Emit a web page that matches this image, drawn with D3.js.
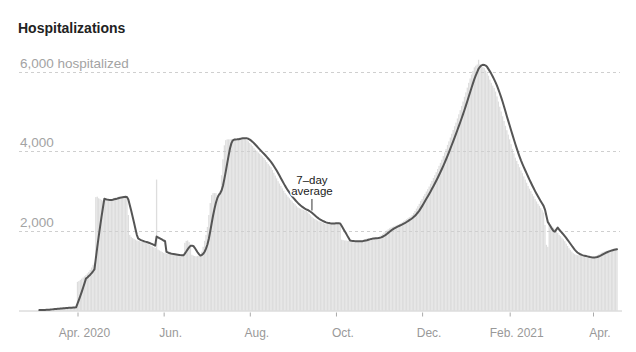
<!DOCTYPE html>
<html><head><meta charset="utf-8">
<script src="https://cdn.jsdelivr.net/npm/d3@7"></script>
<style>
body{margin:0;background:#fff;}
svg text{font-family:"Liberation Sans",Arial,sans-serif;}
</style></head><body>
<svg id="chart" width="636" height="352"></svg>
<script>
// ---- data (daily hospitalized, starting 2020-03-05) ----
const startDate = "2020-03-05";
const mar2020 = [10,12,15,18,20,24,28,32,36,40,43,46,50,53,56,60,63,66,68,70,72,74,76,78,80,85,90];
const apr2020 = [720,740,770,800,830,860,890,930,970,1020,1080,1150,1200,2850,2860,2820,2800,2780,2760,2770,2780,2790,2780,2770,2790,2810,2830,2840,2850,2860];
const may2020 = [2850,2840,2860,2870,2860,2840,2400,1900,1850,1820,1800,1780,1760,1750,1740,1730,1720,1710,1700,1690,1670,1650,1630,1610,1590,1570,3290,1530,1510,1490,1470];
const jun2020 = [1450,1440,1430,1420,1415,1410,1410,1405,1400,1395,1385,1375,1370,1370,1420,1700,1750,1760,1720,1650,1400,1380,1370,1360,1370,1380,1400,1480,1600,1750];
const jul2020 = [1900,2100,2400,2700,2900,2950,2950,2950,2900,2950,3000,3400,3800,4150,4280,4300,4300,4300,4310,4290,4290,4300,4310,4330,4350,4360,4340,4320,4300,4280,4250];
const aug2020 = [4210,4170,4130,4080,4040,4010,3970,3940,3900,3870,3830,3780,3730,3680,3640,3600,3530,3460,3390,3320,3250,3190,3130,3070,3010,2950,2910,2860,2820,2780,2740];
const sep2020 = [2700,2670,2630,2590,2570,2560,2540,2530,2510,2500,2470,2430,2390,2350,2320,2300,2280,2260,2240,2230,2220,2200,2180,2170,2180,2190,2190,2190,2200,2200];
const oct2020 = [2190,2190,2180,2170,1780,1770,1760,1760,1750,1750,1740,1740,1740,1730,1750,1745,1740,1735,1740,1760,1780,1795,1810,1815,1815,1815,1815,1815,1820,1825,1835];
const nov2020 = [1860,1890,1920,1955,1980,2010,2040,2065,2085,2100,2115,2130,2145,2160,2175,2200,2220,2245,2270,2295,2320,2345,2360,2400,2450,2500,2560,2620,2680,2750];
const dec2020 = [2800,2870,2930,2990,3050,3115,3185,3255,3330,3400,3475,3555,3635,3710,3790,3880,3970,4060,4160,4250,4345,4440,4535,4630,4720,4825,4930,5035,5140,5250,5370];
const jan2021 = [5480,5600,5720,5830,5930,6020,6110,6150,6180,6300,6190,6160,6120,6090,6030,5960,5900,5800,5720,5650,5590,5500,5380,5250,5120,5000,4880,4760,4640,4530,4420];
const feb2021 = [4300,4180,4060,3950,3840,3760,3680,3600,3520,3450,3370,3290,3210,3130,3060,3000,2930,2870,2800,2740,2680,2630,2570,2520,2460,2150,1650,1600];
const mar2021 = [2220,2160,2110,2080,2050,2000,1950,1900,1870,1830,1790,1740,1680,1620,1565,1520,1480,1440,1415,1400,1390,1385,1380,1370,1360,1350,1340,1330,1325,1325,1330];
const apr2021 = [1330,1345,1365,1390,1410,1430,1455,1470,1485,1495,1505,1515,1525,1535,1545,1550,1555,1560];

const yTicks = [2000, 4000, 6000];
const yTickLabels = ["2,000", "4,000", "6,000 hospitalized"];
const xTickDates = ["2020-04-01","2020-06-01","2020-08-01","2020-10-01","2020-12-01","2021-02-01","2021-04-01"];
const xTickLabels = ["Apr. 2020","Jun.","Aug.","Oct.","Dec.","Feb. 2021","Apr."];
const titleText = "Hospitalizations";
const annotationLines = ["7\u2013day", "average"];
const annotationDate = "2020-09-14";

// ---- build ----
const parse = d3.timeParse("%Y-%m-%d");
const values = [].concat(mar2020, apr2020, may2020, jun2020, jul2020, aug2020, sep2020,
  oct2020, nov2020, dec2020, jan2021, feb2021, mar2021, apr2021);
const start = parse(startDate);
const daily = values.map((v, i) => ({date: d3.timeDay.offset(start, i), value: v}));
const avg = daily.map((d, i) => {
  const win = daily.slice(Math.max(0, i - 6), i + 1);
  return {date: d.date, value: d3.mean(win, w => w.value)};
});

const svg = d3.select("#chart");
const x = d3.scaleTime()
  .domain([parse("2020-04-01"), parse("2021-04-01")])
  .range([77.5, 593]);
const y = d3.scaleLinear().domain([0, 6000]).range([310.5, 71.7]);

svg.append("text").attr("x", 18).attr("y", 33)
  .attr("font-size", 14).attr("font-weight", "bold").attr("fill", "#222")
  .text(titleText);

// bars
const dayW = x(d3.timeDay.offset(parse("2020-04-01"), 1)) - x(parse("2020-04-01"));
svg.append("g").selectAll("rect").data(daily).join("rect")
  .attr("x", d => x(d.date) - dayW / 2 + 0.05)
  .attr("width", dayW - 0.12)
  .attr("y", d => y(d.value))
  .attr("height", d => y(0) - y(d.value))
  .attr("fill", "#dddddd");

// gridlines
svg.append("g").selectAll("line").data(yTicks).join("line")
  .attr("x1", 19).attr("x2", 620)
  .attr("y1", d => Math.round(y(d)) + 0.5).attr("y2", d => Math.round(y(d)) + 0.5)
  .attr("stroke", "#cfcfcf").attr("stroke-dasharray", "3,3").attr("stroke-width", 1);

svg.append("g").selectAll("text").data(yTicks).join("text")
  .attr("x", 20).attr("y", d => y(d) - 4)
  .attr("font-size", 13.5).attr("fill", "#a3a3a3")
  .text((d, i) => yTickLabels[i]);

// baseline
svg.append("line").attr("x1", 19).attr("x2", 622)
  .attr("y1", 311).attr("y2", 311).attr("stroke", "#cccccc");

// x axis
const xAxis = d3.axisBottom(x)
  .tickValues(xTickDates.map(parse))
  .tickSize(4).tickSizeOuter(0)
  .tickFormat((d, i) => xTickLabels[i]);
const gx = svg.append("g").attr("transform", "translate(0,311.5)").call(xAxis);
gx.select(".domain").remove();
gx.selectAll(".tick line").attr("stroke", "#aaa").attr("y1", 1).attr("y2", 5);
gx.selectAll(".tick text").attr("x", 6.5).attr("y", 17)
  .attr("font-size", 12).attr("fill", "#999")
  .attr("font-family", "'Liberation Sans', Arial, sans-serif");

// average line
const line = d3.line().x(d => x(d.date)).y(d => y(d.value)).curve(d3.curveLinear);
svg.append("path").datum(avg)
  .attr("fill", "none").attr("stroke", "#555").attr("stroke-width", 2)
  .attr("stroke-linejoin", "round").attr("stroke-linecap", "round")
  .attr("d", line);

// annotation
const ax = x(parse(annotationDate));
svg.append("line").attr("x1", ax).attr("x2", ax).attr("y1", 199).attr("y2", 210.5)
  .attr("stroke", "#333").attr("stroke-width", 1);
svg.append("g").selectAll("text").data(annotationLines).join("text")
  .attr("x", ax).attr("y", (d, i) => 184.3 + i * 11)
  .attr("text-anchor", "middle").attr("font-size", 11.5).attr("fill", "#222")
  .attr("stroke", "#fff").attr("stroke-width", 3).attr("paint-order", "stroke")
  .attr("stroke-linejoin", "round")
  .text(d => d);
</script>
</body></html>
